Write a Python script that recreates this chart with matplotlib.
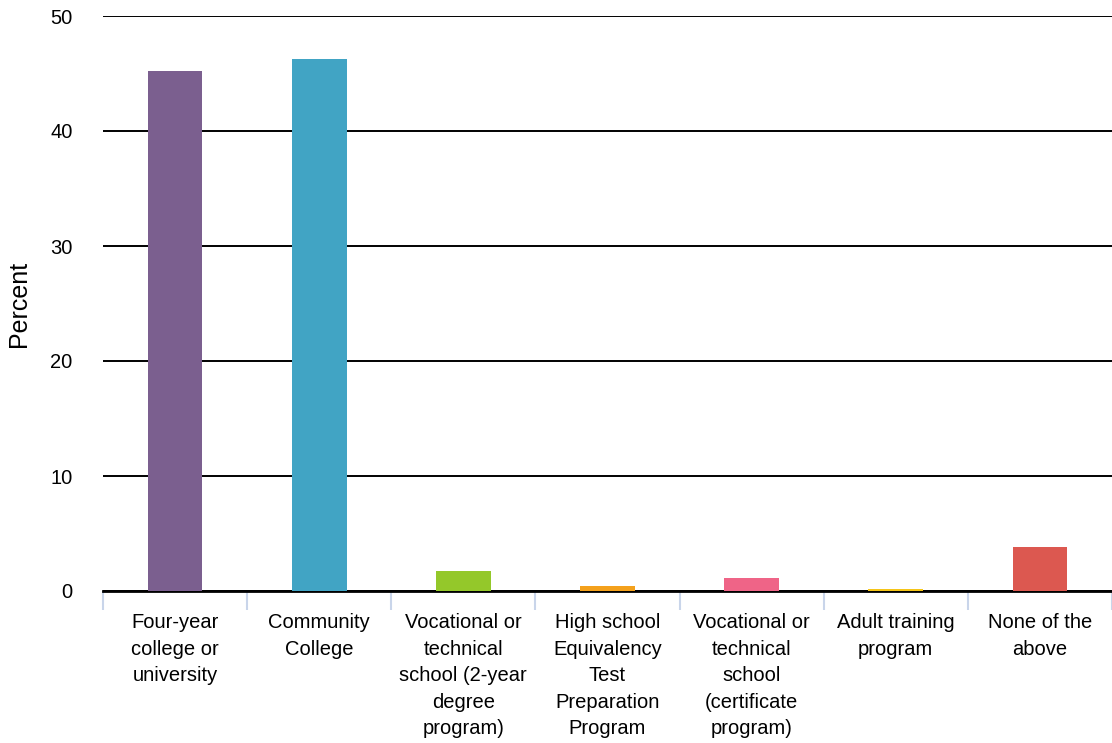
import numpy as np
import matplotlib.pyplot as plt

# Данные
categories = [
    'Four-year\ncollege or\nuniversity',
    'Community\nCollege',
    'Vocational or\ntechnical\nschool (2-year\ndegree\nprogram)',
    'High school\nEquivalency\nTest\nPreparation\nProgram',
    'Vocational or\ntechnical\nschool\n(certificate\nprogram)',
    'Adult training\nprogram',
    'None of the\nabove',
]
percent = [45.2, 46.3, 1.75, 0.45, 1.15, 0.2, 3.8]
colors = ['#7b5f8f', '#41a4c4', '#94c82a', '#f4a11c', '#ef6487', '#f5c518', '#dc5850']

plt.rcParams['font.family'] = ['Liberation Sans', 'DejaVu Sans']

fig = plt.figure(figsize=(11.12, 7.43), dpi=100)
ax = fig.add_axes([103 / 1112, 1 - 591 / 743, 1 - 103 / 1112, (591 - 16) / 743])

x = np.arange(len(categories))
ax.bar(x, percent, width=0.38, color=colors, zorder=5)

ax.set_xlim(-0.5, len(categories) - 0.5)
ax.set_ylim(0, 50)
ax.set_yticks(range(0, 51, 10))
ax.set_xticks(x)
ax.set_xticklabels(categories, fontsize=14.5, linespacing=1.5, va='top')
ax.tick_params(axis='x', which='major', length=0, pad=16)
ax.tick_params(axis='y', length=0, labelsize=14.5, pad=22)

# Разделители категорий
ax.set_xticks(np.arange(-0.5, len(categories)), minor=True)
ax.tick_params(axis='x', which='minor', length=14, width=1.5, color='#c9d5ea')

ax.yaxis.grid(True, color='black', linewidth=1.4, zorder=1)
for s in ['top', 'right', 'left']:
    ax.spines[s].set_visible(False)
ax.spines['bottom'].set_linewidth(2)
ax.spines['bottom'].set_zorder(4)

ax.set_ylabel('Percent', fontsize=18, labelpad=14)

fig.savefig('out.png', dpi=100)
